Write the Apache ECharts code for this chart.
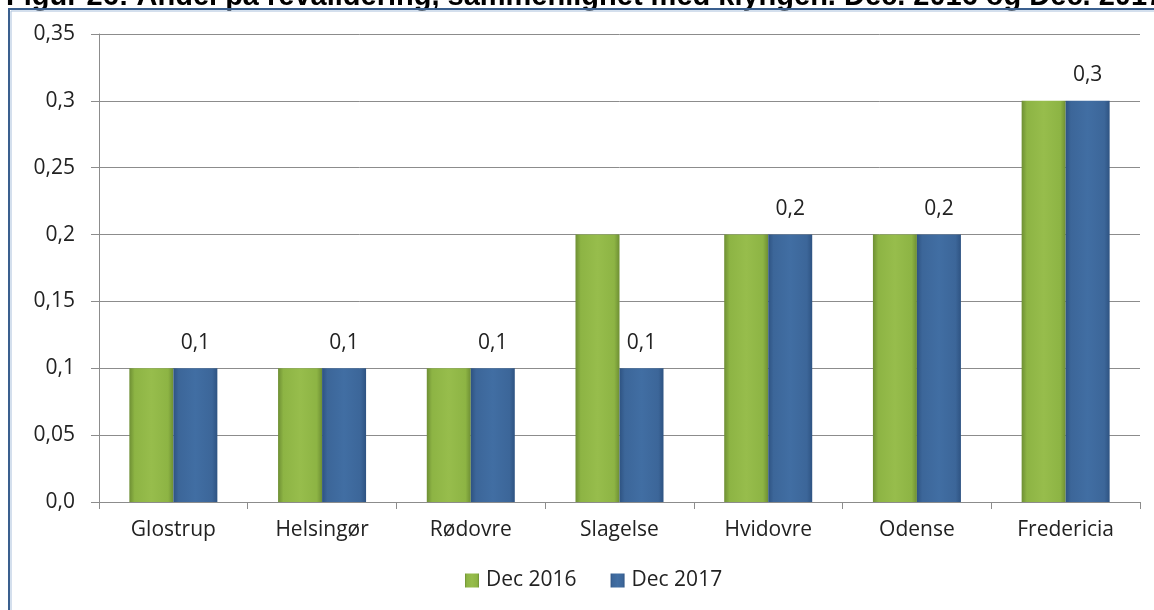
<!DOCTYPE html>
<html><head><meta charset="utf-8">
<script src="https://cdn.jsdelivr.net/npm/echarts@6/dist/echarts.min.js"></script>
<style>html,body{margin:0;padding:0;background:#fff}#c{width:1154px;height:610px}</style>
</head><body><div id="c"></div>
<script>
var titleText = 'Figur 26: Andel på revalidering, sammenlignet med klyngen. Dec. 2016 og Dec. 2017';
var categories = ['Glostrup','Helsingør','Rødovre','Slagelse','Hvidovre','Odense','Fredericia'];
var seriesNames = ['Dec 2016','Dec 2017'];
var dec2016 = [0.1,0.1,0.1,0.2,0.2,0.2,0.3];
var dec2017 = [0.1,0.1,0.1,0.1,0.2,0.2,0.3];
var yTicks = {min:0, max:0.35, interval:0.05};

function fmt(v){ if(v===0) return '0,0'; return String(Number(v.toFixed(2))).replace('.',','); }
function grad(dark, mid, light){
  return new echarts.graphic.LinearGradient(0,0,1,0,[
    {offset:0,color:dark},{offset:0.12,color:mid},{offset:0.5,color:light},{offset:0.88,color:mid},{offset:1,color:dark}]);
}
var green = grad('#6e8f34','#8db444','#97bd4c');
var blue = grad('#2e5382','#3c6699','#416ea3');
var font = '"Open Sans", "Noto Sans", sans-serif';
var fs = 21;
var chart = echarts.init(document.getElementById('c'), null, {renderer:'canvas'});
chart.setOption({
  animation:false,
  graphic:[
    {type:'rect', shape:{x:9,y:9,width:1200,height:700}, style:{fill:'none', stroke:'#3a5f8e', lineWidth:2}, z:-1},
    {type:'rect', shape:{x:11,y:11,width:1200,height:700}, style:{fill:'none', stroke:'#a9c0dc', lineWidth:1}, z:-1},
    {type:'text', left:6, top:-18, z:-2, style:{text:titleText, font:'bold 29px "Liberation Sans", Arial, sans-serif', fill:'#000'}}
  ],
  grid:{left:99, right:14, top:34, bottom:108},
  legend:{bottom:14, left:460, itemWidth:14, itemHeight:14, itemGap:34, icon:'rect',
    textStyle:{fontFamily:font, fontSize:fs, color:'#222', padding:[0,0,0,2]},
    data:seriesNames},
  xAxis:{type:'category', data:categories,
    axisLine:{lineStyle:{color:'#8c8c8c', width:1}},
    axisTick:{show:true, length:7, lineStyle:{color:'#8c8c8c'}},
    axisLabel:{fontFamily:font, fontSize:fs, color:'#222', margin:18}},
  yAxis:{type:'value', min:yTicks.min, max:yTicks.max, interval:yTicks.interval,
    axisLine:{show:true, lineStyle:{color:'#8c8c8c'}},
    axisTick:{show:true, length:8, lineStyle:{color:'#8c8c8c'}},
    splitLine:{lineStyle:{color:'#8c8c8c', width:1}},
    axisLabel:{fontFamily:font, fontSize:fs, color:'#222', margin:24, formatter:fmt}},
  series:[
    {name:seriesNames[0], type:'bar', data:dec2016, barWidth:44, barGap:'0%', barCategoryGap:'41%',
      itemStyle:{color:green}},
    {name:seriesNames[1], type:'bar', data:dec2017, barWidth:44,
      itemStyle:{color:blue},
      label:{show:true, position:'top', distance:15, fontFamily:font, fontSize:fs, color:'#222',
        formatter:function(p){return fmt(p.value);}}}
  ]
});
</script></body></html>
